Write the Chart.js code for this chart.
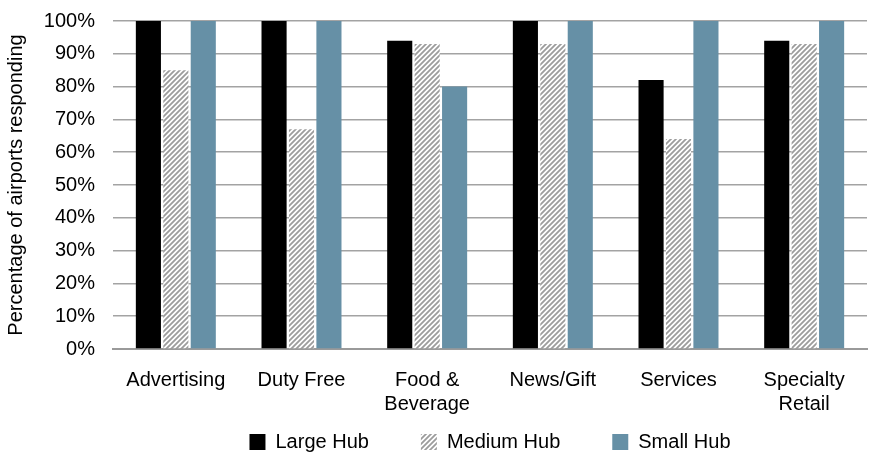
<!DOCTYPE html>
<html><head><meta charset="utf-8">
<script src="https://cdn.jsdelivr.net/npm/chart.js@4/dist/chart.umd.min.js"></script>
<style>html,body{margin:0;padding:0;background:#fff}#wrap{width:869px;height:457px}</style>
</head><body><div id="wrap"><canvas id="c" width="869" height="457"></canvas></div>
<script>
const categories = [["Advertising"], ["Duty Free"], ["Food &", "Beverage"], ["News/Gift"], ["Services"], ["Specialty", "Retail"]];
const seriesNames = ["Large Hub", "Medium Hub", "Small Hub"];
const largeHub = [100, 100, 94, 100, 82, 94];
const mediumHub = [85, 67, 93, 93, 64, 93];
const smallHub = [100, 100, 80, 100, 100, 100];
const yTicks = [0, 10, 20, 30, 40, 50, 60, 70, 80, 90, 100];

function hatch() {
  const s = 5;
  const cv = document.createElement('canvas');
  cv.width = s; cv.height = s;
  const x = cv.getContext('2d');
  x.fillStyle = '#ffffff'; x.fillRect(0, 0, s, s);
  x.strokeStyle = '#9c9c9c'; x.lineWidth = 1.8;
  x.beginPath();
  x.moveTo(0, s); x.lineTo(s, 0);
  x.moveTo(-s/2, s/2); x.lineTo(s/2, -s/2);
  x.moveTo(s/2, s*1.5); x.lineTo(s*1.5, s/2);
  x.stroke();
  return x.createPattern(cv, 'repeat');
}
const ctx = document.getElementById('c').getContext('2d');
const pat = hatch();
const NB = '\u00a0';
Chart.defaults.font.family = '"Liberation Sans", Arial, sans-serif';
Chart.defaults.font.size = 20;
Chart.defaults.color = '#000';
new Chart(ctx, {
  type: 'bar',
  data: {
    labels: categories,
    datasets: [
      {label: seriesNames[0], data: largeHub, backgroundColor: '#000000'},
      {label: seriesNames[1], data: mediumHub, backgroundColor: pat},
      {label: seriesNames[2], data: smallHub, backgroundColor: '#6690a6'}
    ]
  },
  options: {
    responsive: false, animation: false,
    layout: {padding: {top: 21, right: 2, left: 0, bottom: -5}},
    datasets: {bar: {categoryPercentage: 0.655, barPercentage: 0.915}},
    plugins: {
      tooltip: {enabled: false},
      legend: {
        position: 'bottom', fullSize: false,
        labels: {
          boxWidth: 16, boxHeight: 16, padding: 2, font: {size: 20},
          generateLabels: chart => {
            const items = Chart.defaults.plugins.legend.labels.generateLabels(chart);
            items.forEach((it, i) => { if (i < items.length - 1) it.text = it.text + NB.repeat(9); it.lineWidth = 0; });
            return items;
          }
        }
      }
    },
    scales: {
      x: {
        grid: {display: false, drawTicks: false},
        border: {color: '#9a9a9a', width: 2},
        ticks: {padding: 19, font: {size: 20}, maxRotation: 0, autoSkip: false},
        afterFit: s => { s.height = 81; }
      },
      y: {
        min: 0, max: 100,
        afterBuildTicks: ax => { ax.ticks = yTicks.map(v => ({value: v})); },
        grid: {color: '#a3a3a3', lineWidth: 1.5, drawTicks: false},
        border: {display: false},
        ticks: {padding: 18, font: {size: 20}, callback: v => v + '%'},
        title: {display: true, text: 'Percentage of airports responding', font: {size: 20}, padding: {top: 4, bottom: 0}},
        afterFit: s => { s.width = 113; s.paddingTop = 0; s.paddingBottom = 0; }
      }
    }
  }
});
</script></body></html>
